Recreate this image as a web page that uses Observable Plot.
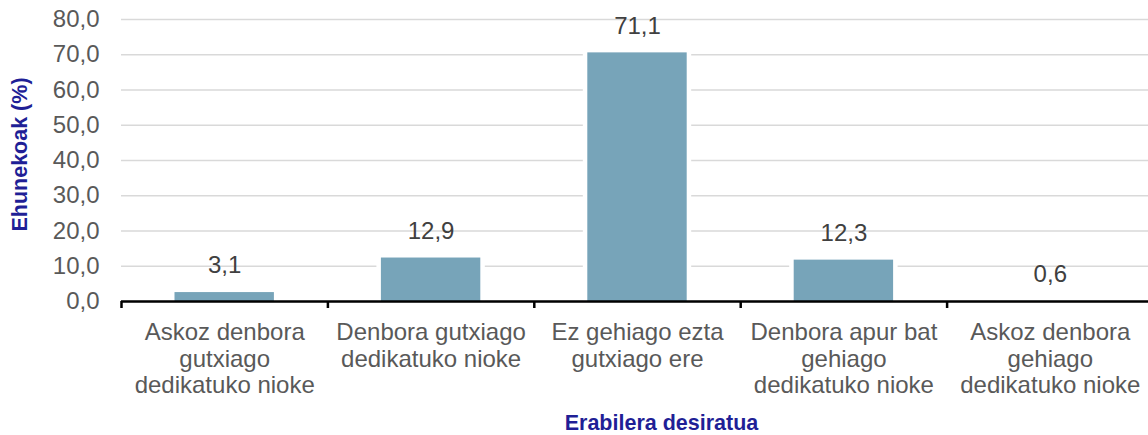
<!DOCTYPE html>
<html><head><meta charset="utf-8">
<script src="https://cdn.jsdelivr.net/npm/d3@7"></script>
<script src="https://cdn.jsdelivr.net/npm/@observablehq/plot@0.6"></script>
<style>body{margin:0;background:#fff} svg{font-family:"Liberation Sans",Arial,sans-serif}</style>
</head><body><div id="chart"></div>
<script>
const categories = [
  "Askoz denbora\ngutxiago\ndedikatuko nioke",
  "Denbora gutxiago\ndedikatuko nioke",
  "Ez gehiago ezta\ngutxiago ere",
  "Denbora apur bat\ngehiago\ndedikatuko nioke",
  "Askoz denbora\ngehiago\ndedikatuko nioke"
];
const values = [3.1, 12.9, 71.1, 12.3, 0.6];
const yTicks = [0, 10, 20, 30, 40, 50, 60, 70, 80];
const yTitle = "Ehunekoak (%)";
const xTitle = "Erabilera desiratua";

const data = categories.map((c, i) => ({category: c, value: values[i], x1: i, x2: i + 1, xm: i + 0.5}));
const boundaries = categories.map((c, i) => i).concat([categories.length]);
const fmt = v => v.toFixed(1).replace(".", ",");
const navy = "#1f1f96";

const chart = Plot.plot({
  width: 1148, height: 435,
  marginTop: 19, marginBottom: 134, marginLeft: 121, marginRight: -5,
  style: {fontFamily: '"Liberation Sans", Arial, sans-serif', background: "white"},
  x: {type: "linear", domain: [0, categories.length], axis: null},
  y: {domain: [0, 80], axis: null},
  marks: [
    Plot.gridY(yTicks, {stroke: "#d9d9d9", strokeOpacity: 1, strokeWidth: 1.5}),
    Plot.axisY(yTicks, {tickSize: 0, tickPadding: 22, tickFormat: fmt, fontSize: 24, fill: "#595959", label: null}),
    Plot.rectY(data, {x1: "x1", x2: "x2", y: "value", fill: "white", insetLeft: 49, insetRight: 49}),
    Plot.rectY(data, {x1: "x1", x2: "x2", y: "value", fill: "#77a4b9", insetLeft: 53.5, insetRight: 53.5, insetTop: 2}),
    Plot.text(data, {x: "xm", y: "value", text: d => fmt(d.value), dy: -25, fontSize: 24, fill: "#404040"}),
    Plot.ruleY([0], {stroke: "black", strokeWidth: 2.5}),
    Plot.axisX(boundaries, {tickSize: 7, tickFormat: () => "", stroke: "black", strokeWidth: 2.5, label: null}),
    Plot.text(data, {x: "xm", y: 0, text: "category", dy: 20, lineAnchor: "top", lineHeight: 1.1, fontSize: 24, fill: "#595959"}),
    Plot.text([yTitle], {frameAnchor: "left", textAnchor: "middle", lineAnchor: "middle", rotate: -90, dx: -101, dy: -6, fontWeight: "bold", fontSize: 21.5, fill: navy}),
    Plot.text([xTitle], {frameAnchor: "bottom", textAnchor: "middle", lineAnchor: "middle", dx: 24, dy: 122, fontWeight: "bold", fontSize: 21.5, fill: navy})
  ]
});
document.getElementById("chart").appendChild(chart);
</script>
</body></html>
